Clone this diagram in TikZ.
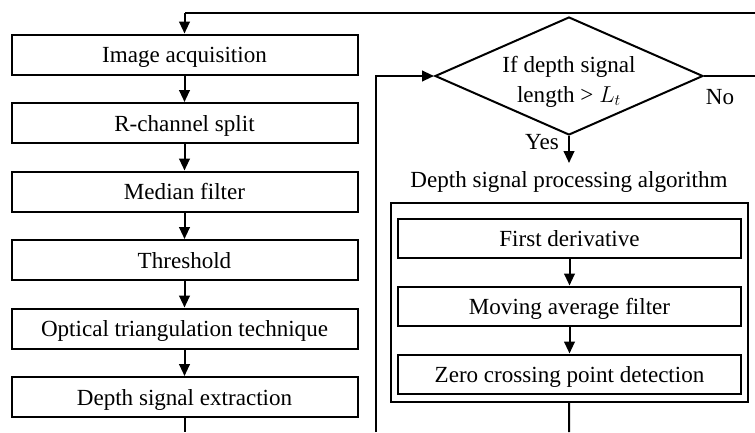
\documentclass[tikz,border=0pt]{standalone}
\usepackage{fontspec}
\setmainfont{Liberation Serif}
\usetikzlibrary{shapes.geometric,arrows.meta}
\tikzset{
  every node/.style={font=\fontsize{17.3}{20}\selectfont},
  stepbox/.style={draw,line width=1.5pt,minimum width=346*0.75pt,minimum height=40*0.75pt,inner sep=0pt,
                  text height=15pt,text depth=3pt},
  subbox/.style={draw,line width=1.5pt,minimum width=343*0.75pt,minimum height=39*0.75pt,inner sep=0pt,
                 text height=15pt,text depth=3pt},
  flow/.style={line width=1.5pt,-{Triangle[length=9pt,width=8pt]}},
  wire/.style={line width=1.5pt},
}
\begin{document}
\begin{tikzpicture}[x=0.75pt,y=-0.75pt]
\useasboundingbox (0,0) rectangle (755,432);

% main pipeline
\node[stepbox] (b1) at (184.5,54.5) {Image acquisition};
\node[stepbox] (b2) at (184.5,123) {R-channel split};
\node[stepbox] (b3) at (184.5,191.5) {Median filter};
\node[stepbox] (b4) at (184.5,260) {Threshold};
\node[stepbox] (b5) at (184.5,328.5) {Optical triangulation technique};
\node[stepbox] (b6) at (184.5,397) {Depth signal extraction};
\foreach \a/\b in {b1/b2,b2/b3,b3/b4,b4/b5,b5/b6} \draw[flow] (\a) -- (\b);

% decision
\node[diamond,draw,line width=1.5pt,aspect=2.27,minimum width=268*0.75pt,minimum height=118*0.75pt,inner sep=0pt] (d) at (569,76) {};
\node[align=center,font=\fontsize{17.3}{22}\selectfont] (cond) at (569,82) {If depth signal\\length > $L_t$};
\node (no) at (720,97) {No};
\node (yes) at (542,142) {Yes};
\node (title) at (569,182) {Depth signal processing algorithm};

% processing block
\node[draw,line width=1.5pt,minimum width=357*0.75pt,minimum height=199*0.75pt,inner sep=0pt] (outer) at (569.5,302.5) {};
\node[subbox] (p1) at (569.5,238.5) {First derivative};
\node[subbox] (p2) at (569.5,306) {Moving average filter};
\node[subbox] (p3) at (569.5,374) {Zero crossing point detection};
\draw[flow] (p1) -- (p2);
\draw[flow] (p2) -- (p3);

% loop wires
\coordinate (topR) at (755,13);
\coordinate (topL) at (184.5,13);
\coordinate (noR) at (755,76);
\coordinate (leftB) at (376,432);
\coordinate (leftT) at (376,76);
\coordinate (b6B) at (184.5,432);
\coordinate (outB) at (569,432);
\coordinate (yesE) at (569,163);

\draw[wire,line width=2pt] (topR) -- (topL);
\draw[flow] (topL) -- (b1);
\draw[wire] (d.east) -- (noR);
\draw[wire] (b6) -- (b6B);
\draw[wire] (outer) -- (outB);
\draw[flow] (leftB) -- (leftT) -- (d.west);
\draw[flow] (d.south) -- (yesE);
\end{tikzpicture}
\end{document}
